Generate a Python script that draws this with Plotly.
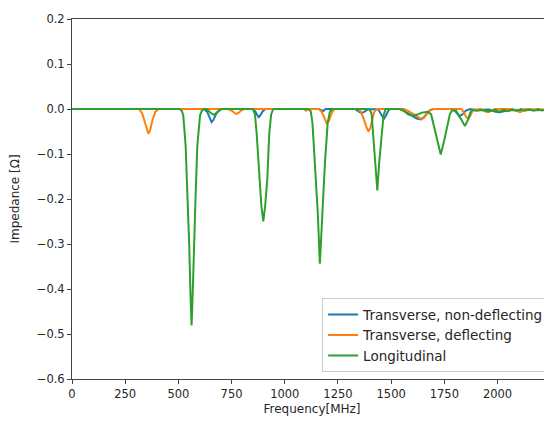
import plotly.graph_objects as go

# ---- data ----
freq_blue = [0, 620, 635, 648, 656, 665, 678, 692, 705, 850, 862, 870, 877, 885, 895, 908,
             1160, 1172, 1182, 1192, 1330, 1345, 1360, 1375, 1390, 1438, 1450, 1460, 1466,
             1474, 1484, 1494, 1540, 1560, 1580, 1600, 1620, 1640, 1655, 1670, 1685, 1700,
             1790, 1805, 1820, 1835, 1850, 1870, 1900, 1960, 1990, 2010, 2040, 2060, 2090,
             2130, 2180, 2250]
imp_blue = [0, 0, -0.006, -0.020, -0.029, -0.024, -0.010, -0.002, 0, 0, -0.006, -0.013,
            -0.018, -0.014, -0.006, 0, 0, -0.003, -0.004, 0, 0, -0.005, -0.009, -0.006,
            -0.001, 0, -0.010, -0.020, -0.022, -0.016, -0.006, 0, 0, -0.004, -0.010, -0.016,
            -0.021, -0.023, -0.018, -0.008, -0.002, 0, 0, -0.007, -0.016, -0.012, -0.004, 0,
            -0.002, -0.001, -0.006, -0.007, -0.004, -0.002, -0.003, -0.001, -0.003, -0.002]

freq_orange = [0, 315, 330, 343, 352, 359, 367, 378, 392, 408, 735, 752, 765, 774, 784, 796,
               810, 1090, 1100, 1110, 1160, 1173, 1185, 1197, 1207, 1218, 1232, 1345, 1358,
               1370, 1382, 1393, 1402, 1410, 1420, 1432, 1560, 1580, 1600, 1620, 1640, 1652,
               1665, 1680, 1695, 1830, 1842, 1852, 1862, 1872, 1885, 1920, 1940, 1955, 1970,
               1985, 2070, 2090, 2105, 2120, 2135, 2200, 2250]
imp_orange = [0, 0, -0.010, -0.030, -0.048, -0.055, -0.047, -0.025, -0.006, 0, 0, -0.004,
              -0.009, -0.011, -0.008, -0.003, 0, 0, -0.004, 0, 0, -0.006, -0.018, -0.032,
              -0.027, -0.012, 0, 0, -0.007, -0.020, -0.038, -0.050, -0.042, -0.024, -0.007, 0,
              0, -0.004, -0.010, -0.016, -0.022, -0.021, -0.013, -0.004, 0, 0, -0.008, -0.017,
              -0.022, -0.015, -0.002, 0, -0.005, -0.007, -0.004, 0, 0, -0.005, -0.007, -0.004,
              0, -0.001, -0.001]

freq_green = [0, 506, 516, 523, 534, 544, 551, 557, 562, 567, 573, 581, 589, 602, 610, 620,
              632, 645, 658, 668, 680, 692, 702, 850, 860, 868, 880, 890, 899, 908, 918, 927,
              936, 946, 1110, 1122, 1130, 1142, 1155, 1165, 1176, 1189, 1202, 1212, 1225,
              1398, 1408, 1416, 1425, 1435, 1444, 1456, 1464, 1474, 1540, 1560, 1580, 1600,
              1620, 1645, 1672, 1688, 1700, 1717, 1733, 1748, 1764, 1776, 1786, 1805, 1818,
              1831, 1847, 1863, 1872, 1880, 1900, 1930, 1960, 1990, 2010, 2030, 2050, 2070,
              2090, 2110, 2130, 2150, 2170, 2190, 2210, 2230, 2250]
imp_green = [0, 0, -0.004, -0.014, -0.081, -0.192, -0.303, -0.414, -0.481, -0.414, -0.303,
             -0.192, -0.081, -0.014, -0.004, 0, 0, -0.006, -0.011, -0.013, -0.009, -0.003, 0,
             0, -0.012, -0.055, -0.155, -0.215, -0.250, -0.215, -0.155, -0.055, -0.012, 0,
             0, -0.005, -0.030, -0.118, -0.229, -0.344, -0.229, -0.118, -0.030, -0.006, 0,
             0, -0.010, -0.058, -0.118, -0.181, -0.118, -0.058, -0.015, 0, 0, -0.004, -0.012,
             -0.015, -0.013, -0.008, -0.006, -0.012, -0.036, -0.073, -0.101, -0.073, -0.036,
             -0.012, -0.003, -0.004, -0.014, -0.026, -0.038, -0.022, -0.008, -0.002, -0.004,
             -0.002, -0.005, -0.003, -0.006, -0.002, -0.005, -0.001, -0.004, 0, -0.004,
             -0.001, -0.004, 0, -0.003, -0.001, -0.002]

series_names = ["Transverse, non-deflecting", "Transverse, deflecting", "Longitudinal"]
x_ticks = [0, 250, 500, 750, 1000, 1250, 1500, 1750, 2000]
y_ticks = [-0.6, -0.5, -0.4, -0.3, -0.2, -0.1, 0.0, 0.1, 0.2]

colors = ["#1f77b4", "#ff7f0e", "#2ca02c"]
txt = "#262626"

fig = go.Figure()
for name, xs, ys, c in zip(series_names,
                           [freq_blue, freq_orange, freq_green],
                           [imp_blue, imp_orange, imp_green], colors):
    fig.add_trace(go.Scatter(x=xs, y=ys, mode="lines", name=name,
                             line=dict(color=c, width=2)))

axis_common = dict(showgrid=False, zeroline=False, showline=True, linecolor="#444",
                   linewidth=1, ticks="outside", ticklen=4, tickcolor="#444",
                   tickfont=dict(family="DejaVu Sans", size=11.5, color=txt))

# the page body adds an 8 px margin, so the figure is sized to fit inside it
fig.update_layout(
    width=544, height=414,
    margin=dict(l=64, r=0, t=11, b=43),
    paper_bgcolor="white", plot_bgcolor="white",
    font=dict(family="DejaVu Sans", color=txt),
    xaxis=dict(range=[0, 2256], tickvals=x_ticks, mirror=True,
               title=dict(text="Frequency[MHz]", font=dict(size=12, color=txt), standoff=4),
               **axis_common),
    yaxis=dict(range=[-0.6, 0.2], tickvals=y_ticks, tickformat=".1f",
               title=dict(text="Impedance [Ω]", font=dict(size=12, color=txt), standoff=15),
               **axis_common),
    legend=dict(x=0.994, y=0.019, xanchor="right", yanchor="bottom",
                bgcolor="rgba(255,255,255,0.85)", bordercolor="#cccccc", borderwidth=1,
                font=dict(size=13.5, color=txt), itemwidth=30, tracegroupgap=0),
    showlegend=True,
)

fig.write_html("out.html")
